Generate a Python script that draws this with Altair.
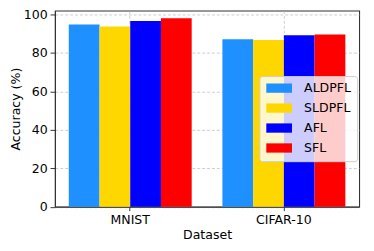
import altair as alt
import pandas as pd

datasets = ["MNIST", "CIFAR-10"]
methods = ["ALDPFL", "SLDPFL", "AFL", "SFL"]
colors = ["#1E90FF", "#FFD700", "#0000FF", "#FF0000"]
mnist_vals = [94.7, 93.7, 96.6, 98.0]
cifar_vals = [87.1, 86.7, 89.1, 89.6]

rows = []
for m, v in zip(methods, mnist_vals):
    rows.append({"Dataset": "MNIST", "Method": m, "Accuracy": v})
for m, v in zip(methods, cifar_vals):
    rows.append({"Dataset": "CIFAR-10", "Method": m, "Accuracy": v})
df = pd.DataFrame(rows)

FONT = "DejaVu Sans"
FS = 12.8

chart = alt.Chart(df).mark_bar().encode(
    x=alt.X("Dataset:N", sort=datasets,
            scale=alt.Scale(paddingInner=0.2, paddingOuter=0.09),
            axis=alt.Axis(title="Dataset", labelAngle=0, tickSize=4,
                          labelPadding=3, titlePadding=3)),
    xOffset=alt.XOffset("Method:N", sort=methods,
                        scale=alt.Scale(paddingInner=0, paddingOuter=0)),
    y=alt.Y("Accuracy:Q",
            scale=alt.Scale(domain=[0, 102.0], nice=False, zero=True),
            axis=alt.Axis(title="Accuracy (%)", values=[0, 20, 40, 60, 80, 100],
                          tickSize=5, labelPadding=3, titlePadding=1)),
    color=alt.Color("Method:N", sort=methods,
                    scale=alt.Scale(domain=methods, range=colors),
                    legend=alt.Legend(
                        title=None, orient="none", legendX=209, legendY=67,
                        symbolType="M-2.02,-0.73H2.02V0.73H-2.02Z",
                        symbolSize=169, symbolStrokeWidth=0, symbolOpacity=1,
                        symbolOffset=7.9, labelOffset=19, rowPadding=6.4,
                        padding=5.8, fillColor="rgba(255,255,255,0.8)",
                        strokeColor="#cccccc", cornerRadius=3,
                        labelFont=FONT, labelFontSize=FS, labelColor="#000000")),
).properties(
    width=311, height=200.5,
    autosize=alt.AutoSizeParams(type="none"),
    padding={"left": 48, "top": 0, "right": 7, "bottom": 34},
).configure_view(
    stroke="#333333", strokeWidth=1.1
).configure_axis(
    labelFont=FONT, titleFont=FONT, labelFontSize=FS, titleFontSize=FS,
    titleFontWeight="normal", labelColor="#000000", titleColor="#000000",
    domainColor="#333333", tickColor="#333333", domainWidth=1.1,
    grid=True, gridColor="#b0b0b0", gridOpacity=0.8, gridDash=[3, 2],
    gridWidth=0.8, zindex=1
).configure_axisX(
    tickBand="center"
)

chart.save("out.html", embed_options={"renderer": "svg", "actions": False})
